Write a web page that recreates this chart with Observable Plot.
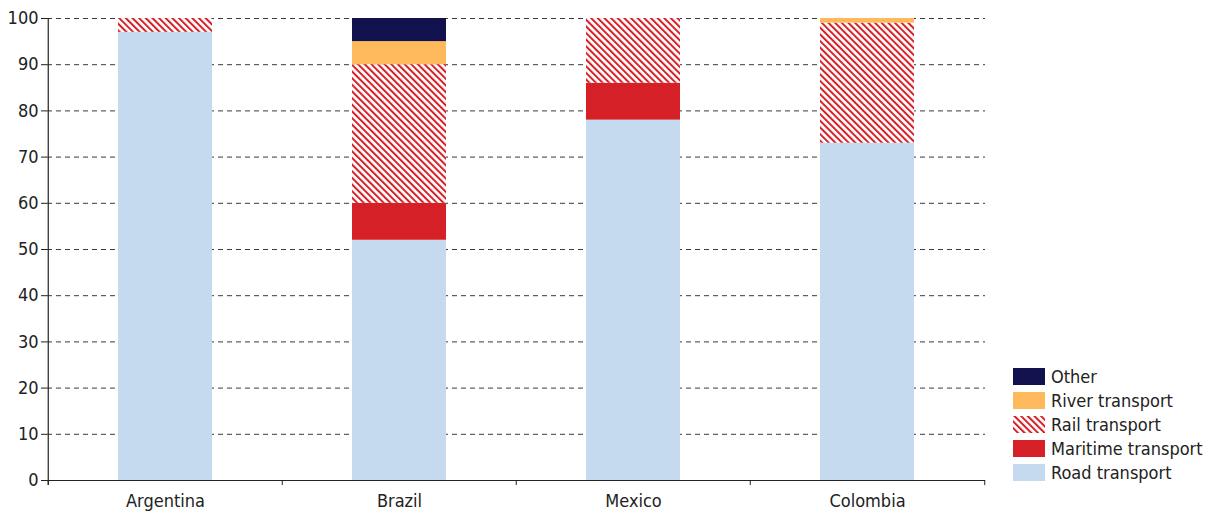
<!DOCTYPE html>
<html>
<head>
<meta charset="utf-8">
<script src="https://cdn.jsdelivr.net/npm/d3@7"></script>
<script src="https://cdn.jsdelivr.net/npm/@observablehq/plot@0.6"></script>
<style>
  body { margin: 0; background: #fff; font-family: 'Liberation Sans Narrow', 'DejaVu Sans Condensed', 'Roboto', sans-serif; }
  #wrap { position: relative; width: 1210px; height: 513px; }
  #legend { position: absolute; left: 1013px; top: 364px; font-size: 18px; color: #222; }
  .row { display: flex; align-items: center; height: 24px; }
  .sw { width: 32px; height: 17px; margin-right: 6px; flex: none; }
</style>
</head>
<body>
<div id="wrap"><div id="legend"></div></div>
<script>
const countries = ["Argentina", "Brazil", "Mexico", "Colombia"];
const modes = ["Road transport", "Maritime transport", "Rail transport", "River transport", "Other"];
const road = [97, 52, 78, 73];
const maritime = [0, 8, 8, 0];
const rail = [3, 30, 14, 26];
const river = [0, 5, 0, 1];
const other = [0, 5, 0, 0];
const modeColors = ["#c5d9ef", "#d52027", "url(#hatch)", "#fdb95c", "#10114d"];
const yTicks = [0, 10, 20, 30, 40, 50, 60, 70, 80, 90, 100];
const gridTicks = [10, 20, 30, 40, 50, 60, 70, 80, 90, 100];

const series = [road, maritime, rail, river, other];
const data = [];
modes.forEach((m, i) => countries.forEach((c, j) => {
  if (series[i][j] > 0) data.push({country: c, mode: m, value: series[i][j]});
}));

const W = 1210, H = 513, mL = 47, mR = 225, mT = 18, mB = 33;
const step = (W - mL - mR) / countries.length;
const font = "'Liberation Sans Narrow', 'DejaVu Sans Condensed', 'Roboto', sans-serif";

const chart = Plot.plot({
  width: W, height: H,
  marginLeft: mL, marginRight: mR, marginTop: mT, marginBottom: mB,
  style: {fontFamily: font, fontSize: "18px", color: "#222", background: "#fff"},
  x: {domain: countries, paddingInner: 0.6, paddingOuter: 0.3, label: null},
  y: {domain: [0, 100], label: null},
  color: {type: "ordinal", domain: modes, range: modeColors},
  marks: [
    Plot.ruleY(gridTicks, {stroke: "#3a3a3a", strokeDasharray: "5,4", strokeWidth: 1}),
    Plot.barY(data, Plot.stackY({x: "country", y: "value", fill: "mode", order: modes})),
    Plot.ruleY([0], {stroke: "#222", strokeWidth: 1.2}),
    Plot.ruleX(countries, {x: d => d, dx: -step / 2, y1: -1.1, y2: 0, stroke: "#222"}),
    Plot.ruleX([countries[countries.length - 1]], {x: d => d, dx: step / 2, y1: -1.1, y2: 0, stroke: "#222"}),
    Plot.ruleX([countries[0]], {x: d => d, dx: -step / 2, y1: -1.1, y2: 100, stroke: "#222", strokeWidth: 1.2}),
    Plot.axisY(yTicks, {tickSize: 6, tickPadding: 3, label: null, fontSize: 18}),
    Plot.axisX({tickSize: 0, tickPadding: 14, label: null, fontSize: 18})
  ]
});

d3.select(chart).insert("defs", ":first-child").html(
  `<pattern id="hatch" patternUnits="userSpaceOnUse" width="4.7" height="4.7" patternTransform="rotate(-45)">
     <rect width="4.7" height="4.7" fill="#fff"/>
     <rect width="2" height="4.7" fill="#d52027"/>
   </pattern>`
);
document.getElementById("wrap").insertBefore(chart, document.getElementById("legend"));

const legend = document.getElementById("legend");
const legendOrder = ["Other", "River transport", "Rail transport", "Maritime transport", "Road transport"];
legendOrder.forEach(m => {
  const c = modeColors[modes.indexOf(m)];
  const row = document.createElement("div");
  row.className = "row";
  const sw = c.startsWith("url")
    ? `<svg class="sw" width="32" height="17"><defs><pattern id="hatchL" patternUnits="userSpaceOnUse" width="4.7" height="4.7" patternTransform="rotate(-45)"><rect width="4.7" height="4.7" fill="#fff"/><rect width="2" height="4.7" fill="#d52027"/></pattern></defs><rect width="32" height="17" fill="url(#hatchL)"/></svg>`
    : `<div class="sw" style="background:${c}"></div>`;
  row.innerHTML = sw + `<span>${m}</span>`;
  legend.appendChild(row);
});
</script>
</body>
</html>
